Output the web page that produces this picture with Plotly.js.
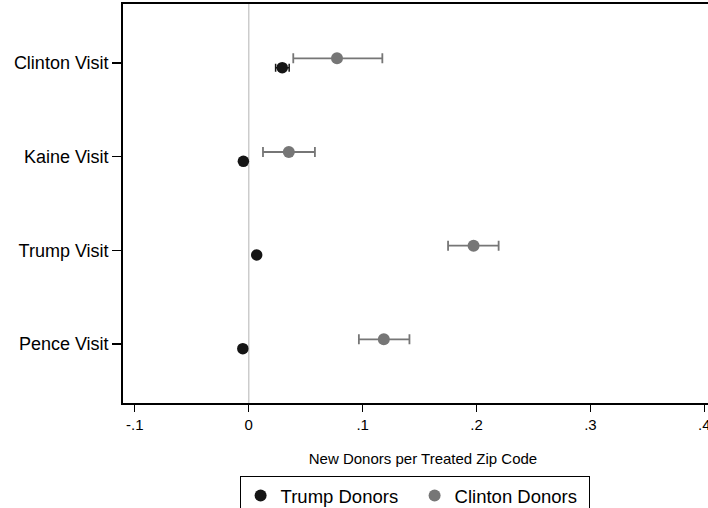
<!DOCTYPE html>
<html>
<head>
<meta charset="utf-8">
<script src="https://cdn.plot.ly/plotly-3.0.1.min.js"></script>
<style>
html,body{margin:0;padding:0;overflow:hidden;background:#fff;width:708px;height:508px;}
#chart{width:760px;height:540px;}
</style>
</head>
<body>
<div id="chart"></div>
<script>
// Data
const categories = ["Clinton Visit", "Kaine Visit", "Trump Visit", "Pence Visit"];
const categoryPos = [4, 3, 2, 1];

const trumpDonors = [0.0294, -0.0047, 0.0070, -0.0052];
const trumpLow    = [0.0236, -0.0072, 0.0045, -0.0077];
const trumpHigh   = [0.0355, -0.0022, 0.0095, -0.0027];

const clintonDonors = [0.0775, 0.0352, 0.1974, 0.1186];
const clintonLow    = [0.0391, 0.0125, 0.1750, 0.0967];
const clintonHigh   = [0.1173, 0.0581, 0.2194, 0.1411];

const xTickVals = [-0.1, 0, 0.1, 0.2, 0.3, 0.4];
const xTickText = ["-.1", "0", ".1", ".2", ".3", ".4"];

const offset = 0.05;

const traces = [
  {
    name: "Trump Donors",
    type: "scatter",
    mode: "markers",
    x: trumpDonors,
    y: categoryPos.map(v => v - offset),
    marker: {color: "#151515", size: 11.5},
    error_x: {
      type: "data", symmetric: false,
      array: trumpHigh.map((h, i) => h - trumpDonors[i]),
      arrayminus: trumpDonors.map((v, i) => v - trumpLow[i]),
      color: "#151515", thickness: 1.5, width: 4
    }
  },
  {
    name: "Clinton Donors",
    type: "scatter",
    mode: "markers",
    x: clintonDonors,
    y: categoryPos.map(v => v + offset),
    marker: {color: "#767676", size: 12},
    error_x: {
      type: "data", symmetric: false,
      array: clintonHigh.map((h, i) => h - clintonDonors[i]),
      arrayminus: clintonDonors.map((v, i) => v - clintonLow[i]),
      color: "#767676", thickness: 1.8, width: 5
    }
  }
];

const layout = {
  width: 760,
  height: 540,
  margin: {l: 123, r: 37, t: 4, b: 137},
  paper_bgcolor: "#fff",
  plot_bgcolor: "#fff",
  font: {family: "Liberation Sans, Arial, sans-serif", color: "#000"},
  showlegend: true,
  xaxis: {
    range: [-0.1104, 0.4164],
    tickvals: xTickVals,
    ticktext: xTickText,
    ticks: "outside",
    ticklen: 7,
    tickwidth: 1.2,
    tickcolor: "#000",
    tickfont: {size: 15},
    showgrid: false,
    zeroline: false,
    showline: true,
    linecolor: "#000",
    linewidth: 1.8,
    mirror: true,
    automargin: false,
    title: {text: "New Donors per Treated Zip Code", font: {size: 15}, standoff: 22}
  },
  yaxis: {
    range: [0.37, 4.63],
    tickvals: categoryPos,
    ticktext: categories,
    ticks: "outside",
    ticklen: 9,
    tickwidth: 1.2,
    tickcolor: "#000",
    tickfont: {size: 18},
    showgrid: false,
    zeroline: false,
    showline: true,
    linecolor: "#000",
    linewidth: 1.8,
    mirror: true,
    automargin: false
  },
  shapes: [{
    type: "line", xref: "x", yref: "paper",
    x0: 0, x1: 0, y0: 0, y1: 1,
    line: {color: "#cccccc", width: 1.5},
    layer: "below"
  }],
  legend: {
    orientation: "h",
    x: 0.486, xanchor: "center",
    y: -0.183, yanchor: "top",
    bordercolor: "#000",
    borderwidth: 1,
    font: {size: 18.5},
    entrywidth: 129,
    itemsizing: "constant"
  }
};

Plotly.newPlot("chart", traces, layout, {displayModeBar: false, staticPlot: true});
</script>
</body>
</html>
